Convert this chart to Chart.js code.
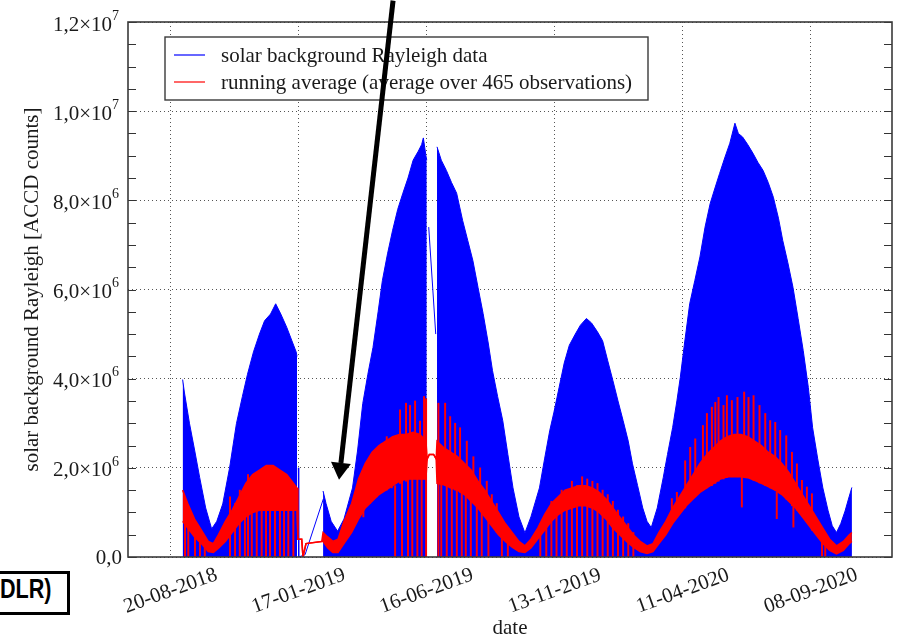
<!DOCTYPE html>
<html>
<head>
<meta charset="utf-8">
<script src="https://cdn.jsdelivr.net/npm/chart.js@4.4.1/dist/chart.umd.min.js"></script>
<style>
html, body { margin: 0; padding: 0; background: #fff; overflow: hidden; }
#wrap { position: relative; width: 897px; height: 639px; }
#dlr {
  position: absolute; left: -20px; top: 571px; width: 90px; height: 44px;
  box-sizing: border-box; border: 3px solid #000; background: #fff;
  text-align: right; padding-right: 16px; line-height: 38px; color: #000;
  white-space: nowrap;
}
#dlr span {
  display: inline-block; font: bold 27px "Liberation Sans", sans-serif;
  transform: scaleX(0.8); transform-origin: right center;
}
</style>
</head>
<body>
<div id="wrap">
  <canvas id="solarChart" width="897" height="639"></canvas>
  <div id="dlr"><span>DLR)</span></div>
</div>
<script>
// days counted from 20-08-2018, values in 10^6 ACCD counts
const M = 1e6;

const xTickDays = [0, 150, 300, 450, 600, 750];
const xTickLabels = ['20-08-2018', '17-01-2019', '16-06-2019', '13-11-2019', '11-04-2020', '08-09-2020'];
const yTickValues = [0, 2, 4, 6, 8, 10, 12];
const yTickLabels = ['0,0', '2,0×10^6', '4,0×10^6', '6,0×10^6', '8,0×10^6', '1,0×10^7', '1,2×10^7'];

// upper envelope of the raw Rayleigh data (null = no data)
const blueDays = [
  14, 16, 22, 28, 34, 41, 48, 54, 61, 69, 77, 84, 90, 97, 104, 110, 117, 123, 129, 136, 142, 147, 148,
  149,
  178.5, 182, 188, 195.5, 203, 213, 219, 225, 231, 237, 243, 248, 254, 260, 266, 272, 278, 284, 290, 294, 296, 299, 300,
  301,
  312, 317, 323, 329, 335, 342, 348, 354, 360, 366, 372, 377, 383, 389, 395, 401, 408, 415, 422, 432, 438, 444, 449,
  455, 461, 467, 474, 480, 487, 493, 500, 506, 512, 518, 524, 530, 536, 541, 547, 553, 558, 563, 570, 577, 582, 588,
  593, 597, 602, 608, 614, 620, 626, 632, 638, 643, 649, 655, 661, 665, 670, 676, 682, 688, 694, 700, 706, 712, 717,
  723, 729, 735, 741, 747, 752, 758, 764, 770, 775, 780, 785, 790, 794, 798
];
const blueValues = [
  3.98, 3.7, 3.0, 2.4, 1.78, 1.1, 0.63, 0.8, 1.19, 2.0, 2.99, 3.6, 4.1, 4.6, 5.0, 5.3, 5.45, 5.68, 5.45, 5.15, 4.85, 4.6, 4.5,
  null,
  1.48, 1.2, 0.8, 0.58, 0.85, 1.55, 2.4, 3.44, 4.1, 4.7, 5.5, 6.2, 6.8, 7.33, 7.8, 8.16, 8.5, 8.9, 9.1, 9.25, 9.4, 9.0, 8.9,
  null,
  9.2, 8.9, 8.67, 8.4, 8.16, 7.55, 7.1, 6.65, 6.05, 5.46, 4.8, 4.18, 3.6, 3.06, 2.3, 1.55, 0.9, 0.54, 0.9, 1.55, 2.2, 2.83, 3.25,
  3.8, 4.35, 4.75, 5.0, 5.2, 5.35, 5.25, 5.05, 4.85, 4.4, 3.96, 3.5, 3.06, 2.6, 2.09, 1.6, 1.1, 0.8, 0.66, 1.1, 1.78, 2.3, 2.9,
  3.5, 4.03, 4.8, 5.68, 6.2, 6.73, 7.4, 7.93, 8.3, 8.6, 8.95, 9.28, 9.73, 9.5, 9.42, 9.25, 9.06, 8.85, 8.67, 8.4, 8.07, 7.6, 7.1,
  6.6, 6.05, 5.35, 4.63, 3.8, 2.9, 2.2, 1.55, 1.05, 0.7, 0.55, 0.75, 1.03, 1.3, 1.56
];

// sparse raw points inside the data gaps
const gapDays = [149.5, 150.0, 157.4, 178.8, 240, 302.3, 310.5];
const gapValues = [2.0, 0, 0.05, 1.3, null, 7.4, 5.0];

// running average: lower and upper edge of the band
const redDays = [
  14, 20, 28, 36, 44, 50, 56, 64, 72, 80, 88, 96, 104, 112, 120, 128, 136, 144, 148,
  149, 153.5, 155, 158.5, 177,
  178.5, 184, 190, 196, 203, 212, 220, 228, 236, 244, 252, 260, 268, 276, 284, 292, 299,
  300.5, 303, 308, 311,
  312, 320, 328, 336, 344, 352, 360, 368, 376, 384, 392, 400, 408, 415, 422, 430, 438, 446, 454, 462, 470, 478,
  486, 494, 502, 510, 518, 526, 534, 542, 550, 558, 565, 572, 580, 588, 596, 604, 612, 620, 628, 636, 644, 652,
  660, 668, 676, 684, 692, 700, 708, 716, 724, 732, 740, 748, 756, 764, 772, 780, 788, 795, 798
];
const redLow = [
  0.8, 0.65, 0.45, 0.3, 0.12, 0.1, 0.2, 0.35, 0.55, 0.75, 0.9, 1.0, 1.05, 1.05, 1.05, 1.05, 1.05, 1.05, 1.05,
  0.4, 0.4, 0.0, 0.3, 0.35,
  0.35, 0.2, 0.1, 0.1, 0.3, 0.55, 0.85, 1.1, 1.25, 1.4, 1.5, 1.6, 1.7, 1.75, 1.75, 1.75, 1.75,
  2.2, 2.3, 2.3, 2.2,
  1.65, 1.62, 1.55, 1.5, 1.4, 1.25, 1.1, 0.9, 0.7, 0.5, 0.35, 0.22, 0.12, 0.1, 0.2, 0.4, 0.6, 0.8, 0.95, 1.05, 1.1, 1.15,
  1.15, 1.1, 1.0, 0.85, 0.65, 0.5, 0.35, 0.22, 0.12, 0.08, 0.12, 0.3, 0.5, 0.75, 0.95, 1.15, 1.3, 1.45, 1.55, 1.65, 1.75, 1.8,
  1.8, 1.8, 1.78, 1.72, 1.65, 1.58, 1.5, 1.4, 1.25, 1.1, 0.9, 0.7, 0.5, 0.3, 0.15, 0.07, 0.15, 0.3, 0.35
];
const redHigh = [
  1.5, 1.2, 0.85, 0.6, 0.35, 0.3, 0.5, 0.8, 1.05, 1.35, 1.65, 1.85, 1.95, 2.05, 2.05, 1.95, 1.85, 1.65, 1.55,
  0.4, 0.4, 0.0, 0.3, 0.35,
  0.55, 0.45, 0.35, 0.4, 0.8, 1.2, 1.75, 2.1, 2.35, 2.5, 2.6, 2.7, 2.75, 2.75, 2.8, 2.75, 2.6,
  2.2, 2.3, 2.3, 2.2,
  2.6, 2.45, 2.35, 2.25, 2.1, 1.95, 1.7, 1.5, 1.25, 1.0, 0.75, 0.55, 0.35, 0.25, 0.4, 0.65, 0.95, 1.2, 1.35, 1.5, 1.55, 1.6,
  1.6, 1.55, 1.45, 1.3, 1.1, 0.9, 0.7, 0.5, 0.35, 0.25, 0.3, 0.55, 0.8, 1.1, 1.35, 1.6, 1.85, 2.1, 2.3, 2.45, 2.6, 2.7,
  2.75, 2.75, 2.7, 2.6, 2.5, 2.35, 2.25, 2.1, 1.9, 1.65, 1.4, 1.15, 0.9, 0.65, 0.4, 0.25, 0.35, 0.5, 0.55
];

// single outlying averages (vertical red strokes)
const spikeDays = [
  16.8, 20.6, 28.5, 34.3, 40, 69.5, 75.4, 81, 87, 90.6, 95, 100.8, 106.6, 111.7, 116.4, 122.2, 128, 132.8, 137.8, 143.7,
  225.7, 233.6, 241.4, 247.3, 253.1, 259, 262.9, 268.7, 271, 275.7, 278, 280.4, 283, 286.3, 289, 292.1, 294, 296.8, 299.2,
  313.6, 317, 321.5, 323.4, 327.4, 329.3, 333.2, 335.2, 339, 341, 345.7, 346.9, 351.6, 354.6, 358.6, 362.5, 364.4, 370.3,
  372.2, 376.2, 382, 388, 395,
  433, 440, 446, 452, 458, 464, 470, 476, 482, 488, 494, 500, 506, 512, 518, 524, 530, 536, 542,
  587.1, 593, 602.7, 608.6, 614.5, 623.5, 628.2, 634, 638, 641.8, 647.6, 651.6, 657.4, 664, 669.1, 671.8, 676.9, 682.8,
  689.8, 696.5, 702.3, 708.2, 710, 714, 721.1, 727.8, 729.5, 733.6, 739.5, 745.3, 751.2, 763, 766.8
];
const spikeLow = [
  0, 0, 0, 0, 0, 0, 0, 0, 0, 0, 0, 0, 0, 0, 0, 0, 0, 0, 0, 0,
  0.9, 1.2, 1.35, 1.45, 1.5, 1.55, 0, 1.65, 0, 1.7, 0, 1.75, 0, 1.75, 0, 1.75, 0, 1.75, 0,
  0, 0, 1.6, 0, 1.55, 0, 1.5, 0, 1.45, 0, 0, 1.4, 0, 1.25, 0, 1.1, 0, 0.9,
  0, 0.7, 0.55, 0, 0,
  0, 0, 0, 0, 0, 0, 0, 0, 0, 0, 0, 0, 0, 0, 0, 0, 0, 0, 0,
  0.8, 0.9, 1.1, 1.25, 1.35, 1.5, 1.55, 1.6, 1.65, 1.7, 1.75, 1.78, 1.8, 1.8, 1.12, 1.8, 1.78, 1.72,
  1.66, 1.6, 1.55, 1.5, 0.86, 1.42, 1.3, 1.15, 0.67, 1.05, 0.92, 0.78, 0.6, 0, 0
];
const spikeHigh = [
  1.2, 0.9, 0.7, 0.6, 0.45, 1.35, 1.2, 1.5, 1.3, 1.85, 1.5, 1.1, 1.05, 1.1, 1.05, 1.1, 1.05, 1.1, 1.05, 1.1,
  1.45, 1.8, 2.25, 2.55, 2.7, 2.45, 1.6, 3.3, 1.7, 3.45, 1.75, 3.4, 1.75, 3.5, 1.75, 3.05, 1.75, 3.6, 3.55,
  3.45, 1.65, 3.45, 1.6, 3.15, 1.55, 3.0, 1.5, 2.9, 1.45, 1.4, 2.6, 1.3, 2.25, 1.15, 2.0, 1.05, 1.7,
  0.85, 1.4, 1.2, 0.5, 0.4,
  0.75, 1.0, 1.25, 1.3, 1.5, 1.45, 1.7, 1.6, 1.8, 1.75, 1.7, 1.65, 1.5, 1.4, 1.25, 1.05, 0.9, 0.75, 0.55,
  1.31, 1.45, 2.16, 2.46, 2.65, 2.95, 3.22, 3.36, 3.47, 3.58, 3.4, 3.62, 3.51, 3.58, 1.8, 3.7, 3.58, 3.62,
  3.4, 3.22, 3.06, 3.02, 1.45, 2.84, 2.72, 2.35, 1.2, 2.09, 1.72, 1.57, 1.42, 0.5, 0.45
];

// annotation arrow (data coordinates)
const arrowFrom = { x: 260.5, y: 12.48 };
const arrowTo = { x: 197.2, y: 1.73 };

const seriesLabels = ['solar background Rayleigh data', 'running average (average over 465 observations)'];
const BLUE = '#0000ff';
const RED = '#ff0000';
const SERIF = '"Liberation Serif", "Times New Roman", serif';

function pts(days, vals) {
  return days.map((d, i) => ({ x: d, y: vals[i] === null ? null : vals[i] * M }));
}

const decorations = {
  id: 'decorations',
  afterDatasetsDraw(chart) {
    const { ctx, chartArea: a, scales: { y } } = chart;
    ctx.save();
    // inward minor ticks, both sides
    ctx.strokeStyle = '#333';
    ctx.lineWidth = 1.2;
    for (let v = 0; v <= 12; v += 0.5) {
      const py = Math.round(y.getPixelForValue(v * M)) + 0.5;
      ctx.beginPath();
      ctx.moveTo(a.left, py); ctx.lineTo(a.left + 8, py);
      ctx.moveTo(a.right, py); ctx.lineTo(a.right - 8, py);
      ctx.stroke();
    }
    // plot frame
    ctx.strokeStyle = '#3a3a3a';
    ctx.lineWidth = 1.6;
    ctx.strokeRect(a.left, a.top, a.right - a.left, a.bottom - a.top);

    // legend box
    const lx = a.left + 37, ly = a.top + 15, lw = 483, lh = 63;
    ctx.fillStyle = '#fff';
    ctx.fillRect(lx, ly, lw, lh);
    ctx.strokeStyle = '#3a3a3a';
    ctx.lineWidth = 1.4;
    ctx.strokeRect(lx, ly, lw, lh);
    ctx.font = '21px ' + SERIF;
    ctx.textBaseline = 'middle';
    ctx.textAlign = 'left';
    [BLUE, RED].forEach((c, i) => {
      const ry = ly + 18 + i * 27;
      ctx.strokeStyle = c;
      ctx.lineWidth = 1.2;
      ctx.beginPath(); ctx.moveTo(lx + 9, ry); ctx.lineTo(lx + 40, ry); ctx.stroke();
      ctx.fillStyle = '#1a1a1a';
      ctx.fillText(seriesLabels[i], lx + 56, ry + 1);
    });
    ctx.restore();
  },
  afterDraw(chart) {
    const { ctx, chartArea: a, scales: { x, y } } = chart;
    ctx.save();
    ctx.fillStyle = '#1a1a1a';
    // y tick labels with exponents
    yTickValues.forEach((v, i) => {
      const py = y.getPixelForValue(v * M);
      const [mant, exp] = yTickLabels[i].split('^');
      ctx.textAlign = 'right';
      ctx.textBaseline = 'middle';
      if (exp) {
        ctx.font = '14px ' + SERIF;
        const ew = ctx.measureText(exp).width;
        ctx.fillText(exp, a.left - 9, py - 6);
        ctx.font = '21px ' + SERIF;
        ctx.fillText(mant, a.left - 9 - ew, py + 3);
      } else {
        ctx.font = '21px ' + SERIF;
        ctx.fillText(mant, a.left - 6, py + 1);
      }
    });
    // rotated date labels
    ctx.font = '21px ' + SERIF;
    ctx.textAlign = 'center';
    ctx.textBaseline = 'middle';
    xTickDays.forEach((d, i) => {
      ctx.save();
      ctx.translate(x.getPixelForValue(d), a.bottom + 34);
      ctx.rotate(-20 * Math.PI / 180);
      ctx.fillText(xTickLabels[i], 0, 0);
      ctx.restore();
    });
    // arrow
    const x0 = x.getPixelForValue(arrowFrom.x), y0 = y.getPixelForValue(arrowFrom.y * M);
    const x1 = x.getPixelForValue(arrowTo.x), y1 = y.getPixelForValue(arrowTo.y * M);
    const len = Math.hypot(x1 - x0, y1 - y0);
    const ux = (x1 - x0) / len, uy = (y1 - y0) / len;
    const hl = 17, hw = 10;
    ctx.strokeStyle = '#000';
    ctx.fillStyle = '#000';
    ctx.lineWidth = 5;
    ctx.beginPath();
    ctx.moveTo(x0, y0);
    ctx.lineTo(x1 - ux * hl, y1 - uy * hl);
    ctx.stroke();
    ctx.beginPath();
    ctx.moveTo(x1, y1);
    ctx.lineTo(x1 - ux * hl - uy * hw, y1 - uy * hl + ux * hw);
    ctx.lineTo(x1 - ux * hl + uy * hw, y1 - uy * hl - ux * hw);
    ctx.closePath();
    ctx.fill();
    ctx.restore();
  }
};

new Chart(document.getElementById('solarChart'), {
  type: 'line',
  data: {
    datasets: [
      {
        label: seriesLabels[0],
        data: pts(blueDays, blueValues),
        borderColor: BLUE, backgroundColor: BLUE, borderWidth: 1,
        fill: 'origin', pointRadius: 0, tension: 0, spanGaps: false, order: 5
      },
      {
        label: 'gap',
        data: pts(gapDays, gapValues),
        borderColor: BLUE, borderWidth: 1, fill: false,
        pointRadius: 0, tension: 0, spanGaps: false, order: 4
      },
      {
        label: 'avg low',
        data: pts(redDays, redLow),
        borderColor: RED, borderWidth: 1.5, fill: false,
        pointRadius: 0, tension: 0, order: 1
      },
      {
        label: seriesLabels[1],
        data: pts(redDays, redHigh),
        borderColor: RED, backgroundColor: RED, borderWidth: 1.5, fill: '-1',
        pointRadius: 0, tension: 0, order: 1
      },
      {
        type: 'bar',
        label: 'avg outliers',
        data: spikeDays.map((d, i) => ({ x: d, y: [spikeLow[i] * M, spikeHigh[i] * M] })),
        backgroundColor: RED, barThickness: 1.3, grouped: false, order: 2
      }
    ]
  },
  options: {
    responsive: false,
    animation: false,
    layout: { padding: { left: 0, right: 5, top: 22, bottom: 0 } },
    plugins: { legend: { display: false }, tooltip: { enabled: false } },
    scales: {
      x: {
        type: 'linear', min: -50, max: 845, offset: false,
        afterBuildTicks: s => { s.ticks = xTickDays.map(v => ({ value: v })); },
        afterFit: s => { s.height = 82; },
        ticks: { display: false },
        grid: { color: '#555', lineWidth: 1, drawTicks: false, offset: false },
        border: { display: false, dash: [1, 3] },
        title: { display: true, text: 'date', color: '#1a1a1a', font: { family: SERIF, size: 21, lineHeight: 1 }, padding: 0 }
      },
      y: {
        type: 'linear', min: 0, max: 12 * M,
        afterBuildTicks: s => { s.ticks = yTickValues.map(v => ({ value: v * M })); },
        afterFit: s => { s.width = 128; },
        ticks: { display: false },
        grid: { color: '#555', lineWidth: 1, drawTicks: false },
        border: { display: false, dash: [1, 3] },
        title: {
          display: true, text: 'solar background Rayleigh [ACCD counts]', color: '#1a1a1a',
          font: { family: SERIF, size: 21, lineHeight: 1 }, padding: { top: 22, bottom: 0 }
        }
      }
    }
  },
  plugins: [decorations]
});
</script>
</body>
</html>
